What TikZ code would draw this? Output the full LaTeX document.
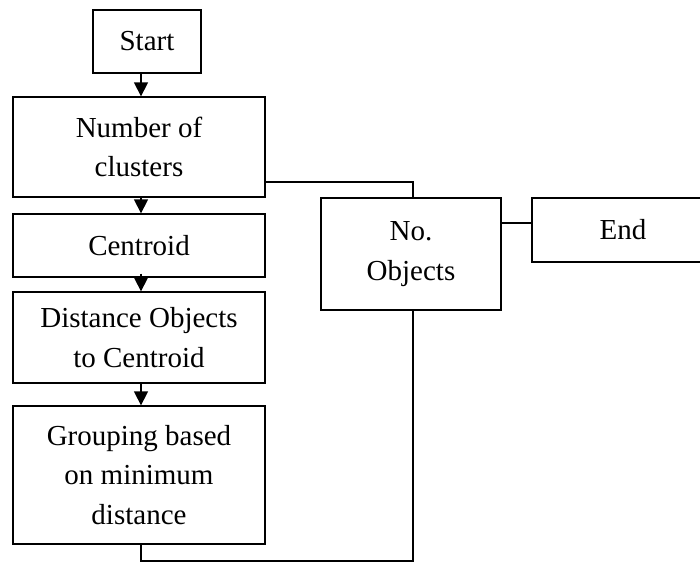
\documentclass[tikz,border=0pt]{standalone}
\usepackage{fontspec}
\setmainfont{Liberation Serif}
\usetikzlibrary{arrows.meta}
\begin{document}
\begin{tikzpicture}[x=1pt,y=-1pt,
  box/.style={draw,line width=1.3pt,rectangle,align=center,inner sep=0pt,
    font=\fontsize{29}{39.5}\selectfont},
  link/.style={line width=1.3pt},
  arr/.style={line width=1.3pt,-{Triangle[length=14pt,width=14pt]}}]
\useasboundingbox (0,0) rectangle (700,562);

% left column of steps
\node[box,minimum width=108pt,minimum height=63pt] (start) at (147,41.5) {Start};
\node[box,minimum width=252pt,minimum height=100pt] (num) at (139,147) {Number of\\clusters};
\node[box,minimum width=252pt,minimum height=63pt] (cent) at (139,245.5) {Centroid};
\node[box,minimum width=252pt,minimum height=91pt] (dist) at (139,337.5) {Distance Objects\\to Centroid};
\node[box,minimum width=252pt,minimum height=138pt] (group) at (139,475) {Grouping based\\on minimum\\distance};

% right side
\node[box,minimum width=180pt,minimum height=112pt] (noobj) at (411,254) {No.\\Objects};
\node[box,minimum width=182pt,minimum height=64pt] (end) at (623,230) {End};

\coordinate (col) at (141,0);
\coordinate (rcol) at (413,0);
\coordinate (topline) at (0,182);
\coordinate (botline) at (0,561);
\coordinate (endline) at (0,223);

% downward arrows
\draw[arr] (start.south -| col) -- (num.north -| col);
\draw[arr] (num.south -| col) -- (cent.north -| col);
\draw[arr] ([yshift=4pt]cent.south -| col) -- (dist.north -| col);
\draw[arr] (dist.south -| col) -- (group.north -| col);

% connections to the right-hand boxes
\draw[link] (num.east |- topline) -| (noobj.north -| rcol);
\draw[link] (group.south -| col) |- (botline -| rcol) -- (noobj.south -| rcol);
\draw[link] (noobj.east |- endline) -- (end.west |- endline);
\end{tikzpicture}
\end{document}
